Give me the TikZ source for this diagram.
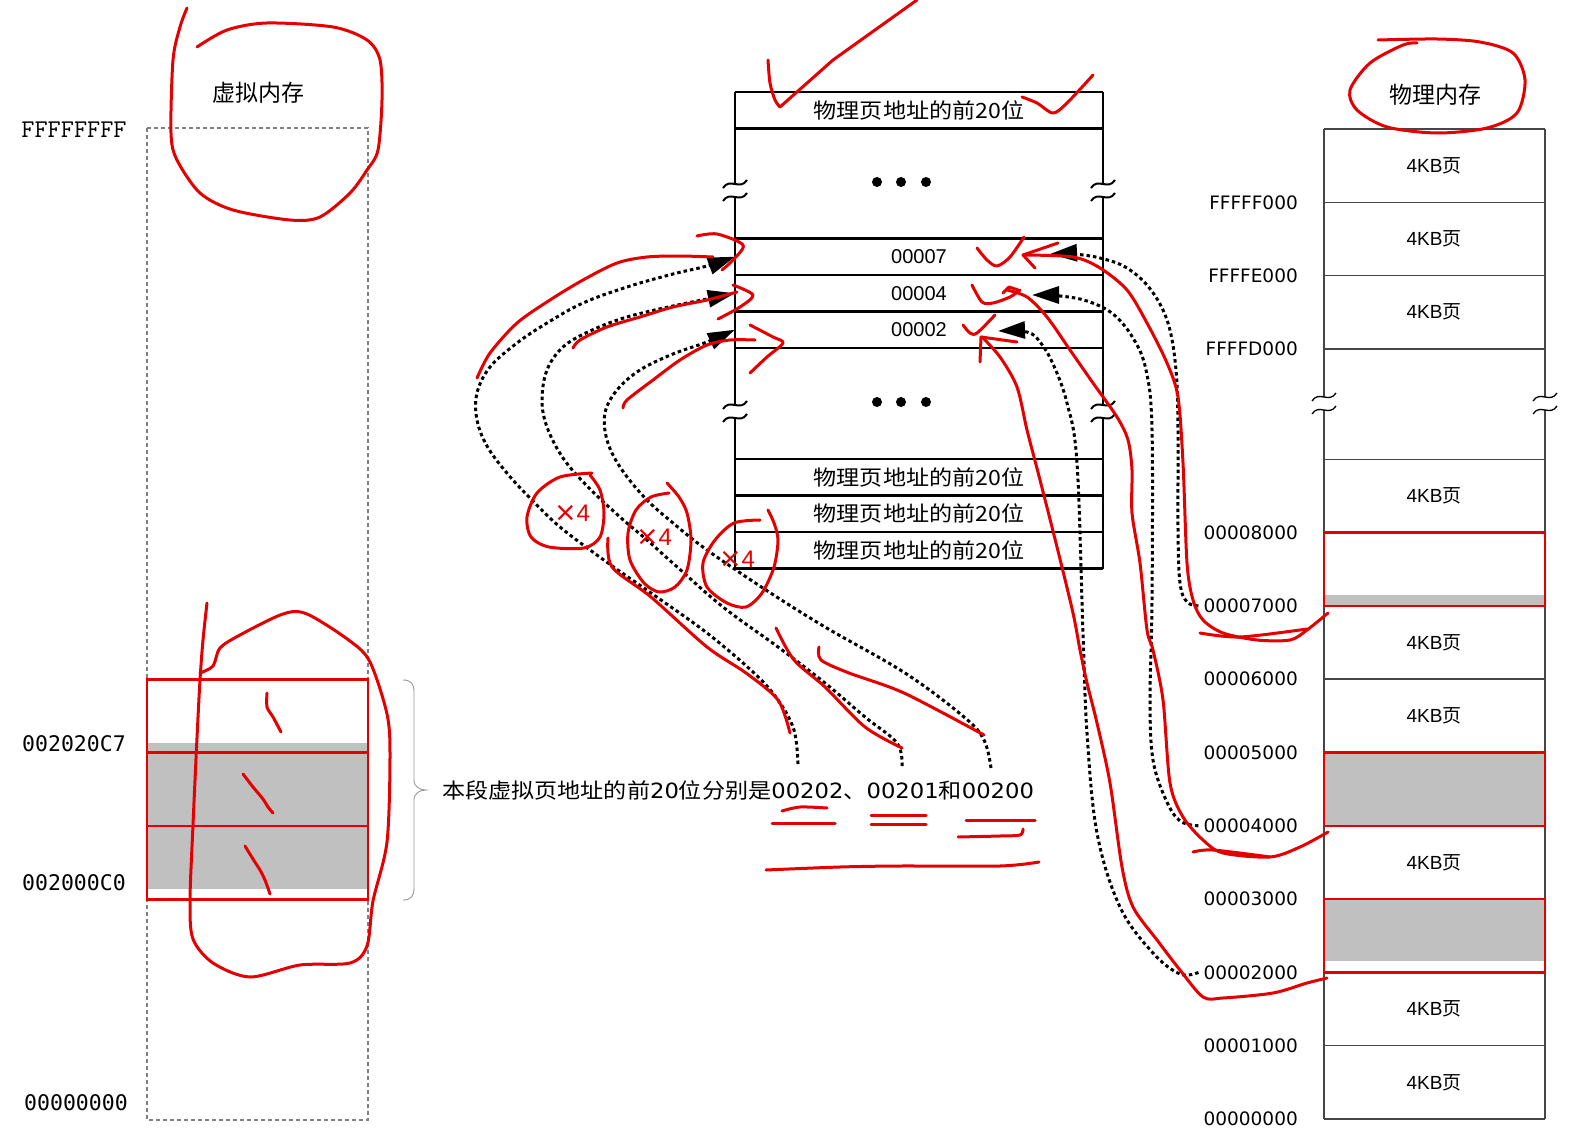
\documentclass[tikz,border=0pt]{standalone}
\usepackage{fontspec}
\setmainfont{Liberation Sans}
\newfontfamily\cjk{Noto Sans CJK SC}
\newfontfamily\cjkwide[FakeStretch=1.1]{Noto Sans CJK SC}
\newfontfamily\digwide[FakeStretch=1.08]{DejaVu Sans}
\newfontfamily\dejavu{DejaVu Sans}
\newfontfamily\monoB{DejaVu Sans Mono}
\usetikzlibrary{arrows.meta}
\definecolor{annot}{RGB}{228,0,0}
\definecolor{pagegray}{RGB}{192,192,192}
\definecolor{frame}{RGB}{70,70,70}
\newcommand\brkmark[3]{% x, y, width
  \draw[line width=#3] (#1-12,#2+4) .. controls (#1-5,#2-7) and (#1+5,#2+7) .. (#1+12,#2-4);}
\begin{document}
\begin{tikzpicture}[x=1pt,y=-1pt,
  tbl/.style={line width=2.4pt,black},
  phys/.style={line width=1.5pt,frame},
  redbox/.style={draw=annot,line width=2.6pt},
  pen/.style={annot,line width=3pt,line cap=round,line join=round},
  ptr/.style={line width=3pt,black,dash pattern=on 3.5pt off 3pt,-{Triangle[length=27pt,width=17pt]}},
  lbl/.style={inner sep=0pt},
  rowtxt/.style={inner sep=0pt,minimum width=368pt,minimum height=36.5pt,font=\fontsize{20}{20}\selectfont},
  cjkrow/.style={inner sep=0pt,minimum width=368pt,minimum height=36.5pt,font=\cjkwide\fontsize{21}{21}\selectfont},
  paddr/.style={inner sep=0pt,anchor=east,font=\dejavu\fontsize{18.5}{20}\selectfont},
  page/.style={inner sep=0pt,font=\fontsize{19}{20}\selectfont},
  title/.style={inner sep=0pt,font=\cjk\fontsize{23}{23}\selectfont},
  times/.style={inner sep=0pt,text=annot,font=\fontsize{24}{24}\selectfont}
]
\fill[white] (0,0) rectangle (1587,1142);
\useasboundingbox (0,0) rectangle (1587,1142);

% ---------------- virtual memory ----------------
\draw[gray,line width=1.1pt,dash pattern=on 4pt off 3pt] (147,128) rectangle (368,1120);
\fill[pagegray] (147,743) rectangle (368,889);
\draw[redbox] (147,679.5) rectangle (368,899.5);
\draw[redbox] (147,752.5) -- (368,752.5) (147,826) -- (368,826);
\node[title] (vtitle) at (258,93) {虚拟内存};
\node[lbl,font=\ttfamily\fontsize{25.5}{25}\selectfont] (vtop) at (74,130) {FFFFFFFF};
\node[lbl,font=\monoB\fontsize{21.5}{22}\selectfont] (vhi) at (74,744) {002020C7};
\node[lbl,font=\monoB\fontsize{21.5}{22}\selectfont] (vlo) at (74,883) {002000C0};
\node[lbl,font=\monoB\fontsize{21.5}{22}\selectfont] (vzero) at (76,1103) {00000000};
\draw[gray!80,line width=0.9pt] (403,680) .. controls (411,680) and (414,684) .. (414,692) -- (414,780)
  .. controls (414,787) and (420,790) .. (426,790) .. controls (420,790) and (414,793) .. (414,800)
  -- (414,888) .. controls (414,896) and (411,900) .. (403,900);
\node[lbl,anchor=west,font=\cjkwide\fontsize{21}{21}\selectfont] (desc) at (442,790) {本段虚拟页地址的前{\digwide 20}位分别是{\digwide 00202}、{\digwide 00201}和{\digwide 00200}};
\coordinate (s1) at (798,764);
\coordinate (s2) at (902,766);
\coordinate (s3) at (991,768);

% ---------------- page table ----------------
\foreach \yy in {92,128.5,238.5,275,311.5,348,459,495.5,532,568.5}
  \draw[tbl] (735,\yy) -- (1103,\yy);
\foreach \xx in {735,1103}{
  \draw[tbl] (\xx,92) -- (\xx,184) (\xx,197) -- (\xx,405) (\xx,418) -- (\xx,568.5);
  \brkmark{\xx}{184}{2pt}\brkmark{\xx}{197}{2pt}
  \brkmark{\xx}{405}{2pt}\brkmark{\xx}{418}{2pt}
}
\node[cjkrow] (hdr) at (919,110.25) {物理页地址的前20位};
\foreach \xx in {877,901,926}{\fill (\xx,182) circle (5); \fill (\xx,402) circle (5);}
\node[rowtxt] (r7) at (919,256.75) {00007};
\node[rowtxt] (r4) at (919,293.25) {00004};
\node[rowtxt] (r2) at (919,329.75) {00002};
\node[cjkrow] (b1) at (919,477.25) {物理页地址的前20位};
\node[cjkrow] (b2) at (919,513.75) {物理页地址的前20位};
\node[cjkrow] (b3) at (919,550.25) {物理页地址的前20位};
\coordinate (t7) at (1050,254);
\coordinate (t4) at (1032,295);
\coordinate (t2) at (998,331);

% ---------------- physical memory ----------------
\fill[pagegray] (1324,595) rectangle (1545,605.9);
\fill[pagegray] (1324,752.5) rectangle (1545,825.8);
\fill[pagegray] (1324,899.1) rectangle (1545,961);
\foreach \yy in {129,202.3,275.6,349,459.3,532.6,605.9,679.2,752.5,825.8,899.1,972.4,1045.7,1119}
  \draw[phys] (1324,\yy) -- (1545,\yy);
\foreach \xx in {1324,1545}{
  \draw[phys] (\xx,129) -- (\xx,397) (\xx,410) -- (\xx,1119);
  \brkmark{\xx}{397}{1.3pt}\brkmark{\xx}{410}{1.3pt}
}
\draw[redbox] (1324,532.6) rectangle (1545,605.9);
\draw[redbox] (1324,752.5) rectangle (1545,825.8);
\draw[redbox] (1324,899.1) rectangle (1545,972.4);
\node[title] (ptitle) at (1435,95) {物理内存};
\foreach \yy/\nm in {165.7/p1,239/p2,312.3/p3,496/p4,642.6/p5,715.9/p6,862.5/p7,1009/p8,1082.4/p9}
  \node[page] (\nm) at (1434,\yy) {4KB{\cjk 页}};
\node[paddr] (aF) at (1298,202.3) {FFFFF000};
\node[paddr] (aE) at (1298,275.6) {FFFFE000};
\node[paddr] (aD) at (1298,349) {FFFFD000};
\node[paddr] (a8) at (1298,532.6) {00008000};
\node[paddr] (a7) at (1298,605.9) {00007000};
\node[paddr] (a6) at (1298,679.2) {00006000};
\node[paddr] (a5) at (1298,752.5) {00005000};
\node[paddr] (a4) at (1298,825.8) {00004000};
\node[paddr] (a3) at (1298,899.1) {00003000};
\node[paddr] (a2) at (1298,972.4) {00002000};
\node[paddr] (a1) at (1298,1045.7) {00001000};
\node[paddr] (a0) at (1298,1119) {00000000};

% ---------------- dotted pointers ----------------
\draw[ptr] plot[smooth,tension=0.6] coordinates {([xshift=-5pt]a7.west) (1187,602) (1180,583) (1178,530) (1178,430) (1176,370) (1168,323) (1151,290) (1127,268) (1100,258) (1073,254) (t7)};
\draw[ptr] plot[smooth,tension=0.6] coordinates {([xshift=-5pt]a4.west) (1180,821) (1166,800) (1153,760) (1150,700) (1152,600) (1152,430) (1146,370) (1133,338) (1113,314) (1087,301) (1060,296) (t4)};
\draw[ptr] plot[smooth,tension=0.6] coordinates {([xshift=-5pt]a2.west) (1180,974) (1153,953) (1120,907) (1097,833) (1087,733) (1083,633) (1077,463) (1067,403) (1053,364) (1040,342) (1027,332) (t2)};
\draw[ptr] plot[smooth,tension=0.6] coordinates {(s1) (794,730) (778,700) (754,673) (707,633) (651,593) (608,563) (560,527) (529,497) (506,472) (487,446) (477,420) (477,393) (490,367) (517,343) (547,323) (583,303) (627,287) (673,274) (707,266) (r7.west)};
\draw[ptr] plot[smooth,tension=0.6] coordinates {(s2) (897,743) (865,717) (825,683) (778,647) (723,607) (675,565) (647,540) (620,517) (588,487) (563,458) (547,427) (542,400) (547,370) (563,347) (590,331) (627,317) (673,306) (707,299) (r4.west)};
\draw[ptr] plot[smooth,tension=0.6] coordinates {(s3) (984,740) (964,717) (905,673) (825,627) (766,590) (707,550) (673,523) (645,498) (620,467) (607,440) (605,413) (617,390) (640,370) (673,354) (707,342) (r2.west)};

% ---------------- red annotations ----------------
\draw[pen] plot[smooth] coordinates {(187,8) (180,27) (173,60) (171,133) (177,160) (200,193) (233,210) (290,220) (320,217) (350,193) (367,170) (378,150) (382,100) (380,60) (367,40) (333,27) (267,23) (227,30) (197,47)};
\draw[pen] plot[smooth] coordinates {(207,603) (203,640) (200,680) (197,738) (193,825) (190,901) (193,939) (213,963) (250,977) (300,965) (350,963) (367,946) (373,901) (387,842) (390,756) (387,714) (370,662) (350,641) (307,614) (283,614) (240,635) (220,648) (213,666) (200,673)};
\draw[pen] plot[smooth] coordinates {(267,693) (267,707) (273,717) (281,732)};
\draw[pen] plot[smooth] coordinates {(243,774) (253,787) (263,799) (268,807) (273,813)};
\draw[pen] plot[smooth] coordinates {(245,846) (253,859) (260,870) (265,880) (270,894)};
\draw[pen] plot[smooth] coordinates {(1417,43) (1403,45) (1370,63) (1350,90) (1357,110) (1387,127) (1437,133) (1487,128) (1517,113) (1525,80) (1513,53) (1480,42) (1437,39) (1378,40)};
% checks on the page table
\draw[pen] plot[smooth] coordinates {(768,60) (770,83) (775,100) (780,107)} -- (833,60) -- (917,0);
\draw[pen] plot[smooth] coordinates {(1022,97) (1037,103) (1053,113) (1067,103) (1093,75)};
\draw[pen] plot[smooth] coordinates {(977,248) (987,260) (997,266) (1010,257) (1024,237)};
\draw[pen] (1058,243) -- (1023,255) -- (1035,268);
\draw[pen] plot[smooth] coordinates {(1023,255) (1073,257) (1100,268) (1127,290) (1147,323) (1167,363) (1178,397) (1183,463) (1187,563) (1193,600) (1203,620) (1223,633) (1257,640) (1290,640) (1307,630) (1328,613)};
\draw[pen] plot[smooth] coordinates {(1200,633) (1240,637) (1307,629)};
\draw[pen] plot[smooth] coordinates {(972,285) (982,302) (993,303) (1010,297) (1020,290)};
\draw[pen] (1003,293) -- (1009,287) -- (1018,290);
\draw[pen] plot[smooth] coordinates {(1007,290) (1027,297) (1047,317) (1070,350) (1093,383) (1117,417) (1128,440) (1132,470) (1132,513) (1140,563) (1147,630) (1153,650) (1163,700) (1170,783) (1183,817) (1203,840) (1223,853) (1270,857) (1300,847) (1328,832)};
\draw[pen] plot[smooth] coordinates {(1193,852) (1213,850) (1270,857)};
\draw[pen] plot[smooth] coordinates {(963,325) (970,333) (977,333) (995,315)};
\draw[pen] (980,362) -- (981,337) -- (1017,342);
\draw[pen] plot[smooth] coordinates {(982,337) (1000,357) (1017,387) (1027,430) (1040,480) (1057,547) (1073,613) (1080,650) (1087,683) (1097,723) (1110,783) (1122,867) (1133,907) (1157,940) (1180,970) (1203,997) (1223,998) (1273,993) (1307,983) (1327,978)};
% arrows on the left of the page table
\draw[pen] plot[smooth] coordinates {(477,378) (490,353) (517,323) (550,300) (583,280) (617,263) (647,257) (680,256) (713,257)};
\draw[pen] plot[smooth] coordinates {(697,236) (717,234) (743,245) (733,260) (722,270)};
\draw[pen] plot[smooth] coordinates {(573,348) (580,340) (607,327) (640,317) (673,307) (707,300) (737,292)};
\draw[pen] plot[smooth] coordinates {(733,285) (753,295) (740,307) (718,319)};
\draw[pen] plot[smooth] coordinates {(623,408) (627,400) (653,380) (680,360) (707,345) (730,340) (755,340)};
\draw[pen] plot[smooth] coordinates {(750,325) (773,337) (783,343) (767,357) (750,373)};
% x4 circles
\draw[pen] plot[smooth] coordinates {(592,473) (560,477) (537,493) (527,517) (531,537) (549,547) (584,548) (600,537) (604,513) (600,490) (590,475)};
\draw[pen] plot[smooth] coordinates {(669,493) (651,497) (636,510) (628,533) (630,560) (644,583) (659,592) (675,587) (687,570) (691,540) (687,513) (679,497) (667,483)};
\draw[pen] plot[smooth] coordinates {(760,520) (734,523) (715,540) (703,563) (707,587) (727,603) (746,607) (762,593) (774,567) (778,540) (774,523) (768,510)};
\node[times] (x1) at (572,513) {{\dejavu\fontsize{27}{27}\selectfont ×}4};
\node[times] (x2) at (654,537) {{\dejavu\fontsize{27}{27}\selectfont ×}4};
\node[times] (x3) at (737,559) {{\dejavu\fontsize{27}{27}\selectfont ×}4};
% strokes along the pointers
\draw[pen] plot[smooth] coordinates {(608,538) (612,567) (651,597) (707,647) (746,673) (778,700) (790,733)};
\draw[pen] plot[smooth] coordinates {(776,628) (794,660) (825,687) (865,727) (902,748)};
\draw[pen] plot[smooth] coordinates {(819,647) (821,660) (849,673) (904,693) (984,735)};
% underlines
\draw[pen] plot[smooth] coordinates {(782,811) (800,807) (827,808)};
\draw[pen] (772,823) -- (835,823);
\draw[pen] (871,815) -- (926,815);
\draw[pen] (871,824) -- (926,824);
\draw[pen] (966,820) -- (1035,820);
\draw[pen] plot[smooth] coordinates {(958,837) (1000,836) (1020,835) (1023,829)};
\draw[pen] plot[smooth] coordinates {(766,870) (840,867) (900,866) (1000,866) (1039,862)};
\end{tikzpicture}
\end{document}
